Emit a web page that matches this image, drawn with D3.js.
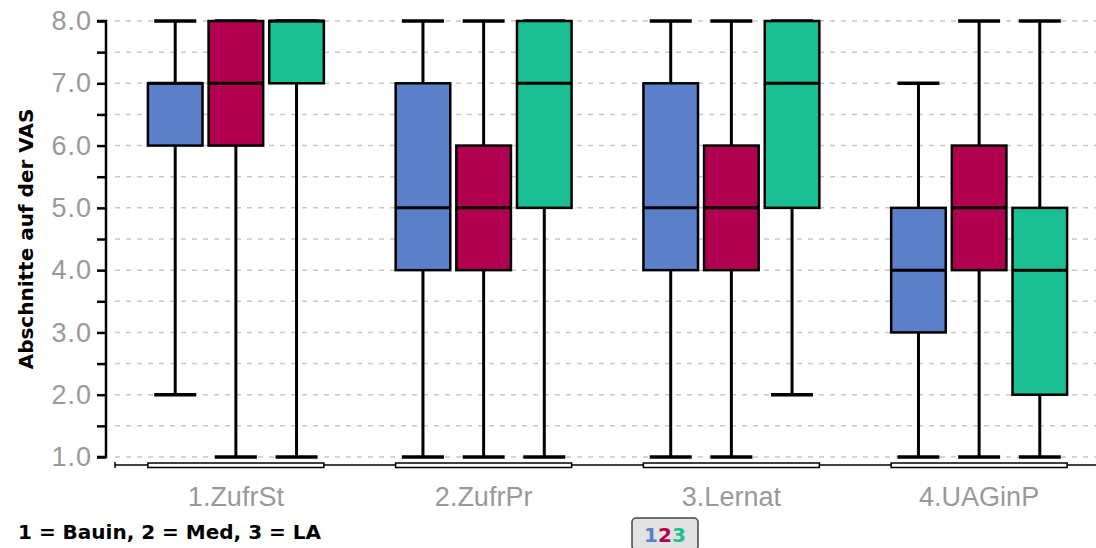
<!DOCTYPE html>
<html>
<head>
<meta charset="utf-8">
<script src="https://cdn.jsdelivr.net/npm/d3@7"></script>
<style>
  body { margin: 0; background: #fff; }
  svg { display: block; }
</style>
</head>
<body>
<svg id="chart" width="1096" height="548"></svg>
<script>
// groups on the x axis
const categories = ['1.ZufrSt', '2.ZufrPr', '3.Lernat', '4.UAGinP']
const seriesNames = ['Bauin', 'Med', 'LA']
const seriesColors = ['#5b7fc8', '#b0004f', '#1bbf94']

// box stats per series, one entry per category: [min, q1, median, q3, max]
const bauin = [[2, 6, 7, 7, 8], [1, 4, 5, 7, 8], [1, 4, 5, 7, 8], [1, 3, 4, 5, 7]]
const med   = [[1, 6, 7, 8, 8], [1, 4, 5, 6, 8], [1, 4, 5, 6, 8], [1, 4, 5, 6, 8]]
const la    = [[1, 7, 8, 8, 8], [1, 5, 7, 8, 8], [2, 5, 7, 8, 8], [1, 2, 4, 5, 8]]

const yTicks = [1, 2, 3, 4, 5, 6, 7, 8]
const yMinor = d3.range(1, 8.01, 0.5)

const svg = d3.select('#chart')
const seriesData = [bauin, med, la]

const yScale = d3.scaleLinear().domain([1, 8]).range([457, 21])
const xScale = d3.scaleBand().domain(categories).range([112, 1103]).padding(0)
const xInner = d3.scaleBand().domain(seriesNames).range([-91, 91])
  .paddingInner(0.1).paddingOuter(0.05)

// dashed grid
svg.append('g')
  .selectAll('line')
  .data(yMinor)
  .join('line')
  .attr('x1', 115).attr('x2', 1096)
  .attr('y1', d => yScale(d)).attr('y2', d => yScale(d))
  .attr('stroke', '#c8c8c8')
  .attr('stroke-width', 1.5)
  .attr('stroke-dasharray', '5,6')

// y axis
const yAxis = svg.append('g')
  .attr('transform', 'translate(106,0)')
  .call(d3.axisLeft(yScale).tickValues(yMinor).tickSize(9)
    .tickFormat(d => yTicks.includes(d) ? d3.format('.1f')(d) : ''))
yAxis.select('.domain').attr('stroke', '#000').attr('stroke-width', 2.5)
  .attr('d', `M-9,${yScale(8)}H0V${yScale(1)}H-9`)
yAxis.selectAll('.tick line').attr('stroke', '#000').attr('stroke-width', 2.5)
yAxis.selectAll('.tick text')
  .attr('x', -14)
  .attr('fill', '#999')
  .style('font-family', 'Liberation Sans, Arial, sans-serif')
  .style('font-size', '27px')
  .style('letter-spacing', '1px')

// y title
svg.append('text')
  .attr('transform', `translate(33,${(yScale(1) + yScale(8)) / 2}) rotate(-90)`)
  .attr('text-anchor', 'middle')
  .style('font-family', 'DejaVu Sans, sans-serif')
  .style('font-weight', 'bold')
  .style('font-size', '20px')
  .text('Abschnitte auf der VAS')

// x axis line
const axisY = 465
svg.append('line')
  .attr('x1', 115).attr('x2', 1096).attr('y1', axisY).attr('y2', axisY)
  .attr('stroke', '#000').attr('stroke-width', 1.5)
svg.append('line')
  .attr('x1', 115).attr('x2', 115).attr('y1', axisY - 3).attr('y2', axisY + 3)
  .attr('stroke', '#000').attr('stroke-width', 1.5)

const groups = svg.append('g')
  .selectAll('g')
  .data(categories)
  .join('g')
  .attr('transform', d => `translate(${xScale(d) + xScale.bandwidth() / 2},0)`)

// range bar under each group
groups.append('rect')
  .attr('x', -88).attr('width', 176)
  .attr('y', axisY - 2).attr('height', 4.5)
  .attr('fill', '#fff').attr('stroke', '#000').attr('stroke-width', 1.5)

groups.append('text')
  .attr('y', 506)
  .attr('text-anchor', 'middle')
  .attr('fill', '#999')
  .style('font-family', 'Liberation Sans, Arial, sans-serif')
  .style('font-size', '27px')
  .text(d => d)

// boxes
const bw = xInner.bandwidth()
const capW = 42
categories.forEach((cat, ci) => {
  const g = groups.filter(d => d === cat)
  seriesNames.forEach((s, si) => {
    const [mn, q1, md, q3, mx] = seriesData[si][ci]
    const cx = xInner(s) + bw / 2
    const b = g.append('g')
    b.append('line')
      .attr('x1', cx).attr('x2', cx).attr('y1', yScale(mx)).attr('y2', yScale(mn))
      .attr('stroke', '#000').attr('stroke-width', 3)
    b.selectAll('.cap')
      .data([mn, mx])
      .join('line')
      .attr('x1', cx - capW / 2).attr('x2', cx + capW / 2)
      .attr('y1', d => yScale(d)).attr('y2', d => yScale(d))
      .attr('stroke', '#000').attr('stroke-width', 3.5)
    b.append('rect')
      .attr('x', xInner(s)).attr('width', bw)
      .attr('y', yScale(q3)).attr('height', yScale(q1) - yScale(q3))
      .attr('fill', seriesColors[si])
      .attr('stroke', '#000').attr('stroke-width', 2.5)
    b.append('line')
      .attr('x1', xInner(s)).attr('x2', xInner(s) + bw)
      .attr('y1', yScale(md)).attr('y2', yScale(md))
      .attr('stroke', '#000').attr('stroke-width', 3)
  })
})

// legend text
svg.append('text')
  .attr('x', 18).attr('y', 539)
  .style('font-family', 'DejaVu Sans, sans-serif')
  .style('font-weight', 'bold')
  .style('font-size', '20px')
  .text('1 = Bauin, 2 = Med, 3 = LA')

// small 123 badge
const badge = svg.append('g').attr('transform', 'translate(632,518)')
badge.append('rect')
  .attr('width', 66).attr('height', 32).attr('rx', 4)
  .attr('fill', '#e2e2e2').attr('stroke', '#444').attr('stroke-width', 1.5)
badge.append('text')
  .attr('x', 33).attr('y', 24)
  .attr('text-anchor', 'middle')
  .style('font-family', 'DejaVu Sans, sans-serif')
  .style('font-weight', 'bold')
  .style('font-size', '20px')
  .selectAll('tspan')
  .data(['1', '2', '3'])
  .join('tspan')
  .attr('fill', (d, i) => seriesColors[i])
  .text(d => d)
</script>
</body>
</html>
